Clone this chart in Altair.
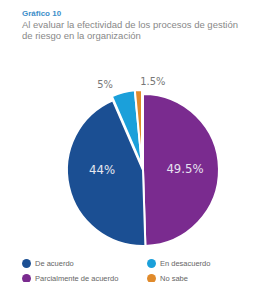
import altair as alt
import pandas as pd

categories = ["Parcialmente de acuerdo", "De acuerdo", "En desacuerdo", "No sabe"]
values = [49.5, 44, 5, 1.5]
labels = ["49.5%", "44%", "5%", "1.5%"]
slice_order = [1, 2, 3, 4]
legend_order = ["De acuerdo", "Parcialmente de acuerdo", "En desacuerdo", "No sabe"]
colors = ["#1b4f93", "#7a2b8f", "#1ba0da", "#e08a2b"]

df = pd.DataFrame({"cat": categories, "val": values, "lab": labels, "ord": slice_order})

CX, CY, R = 135, 128, 76

base = alt.Chart(df).transform_window(
    cum="sum(val)", sort=[alt.SortField("ord")], frame=[None, 0]
).transform_calculate(
    start="datum.cum - datum.val", mid="datum.cum - datum.val / 2"
)

theta_scale = alt.Scale(domain=[0, 100], range=[0, 6.283185307179586])
color = alt.Color(
    "cat:N",
    scale=alt.Scale(domain=legend_order, range=colors),
    legend=alt.Legend(
        title=None, orient="none", legendX=14, legendY=217, columns=2,
        symbolType="circle", symbolSize=80, labelFontSize=7.5, labelColor="#666",
        labelFont="Liberation Sans", columnPadding=28, rowPadding=6,
        symbolStrokeWidth=0, labelLimit=200,
    ),
)

big = base.transform_filter("datum.val > 10").mark_arc(
    outerRadius=R, stroke="white", strokeWidth=2
).encode(
    theta=alt.Theta("start:Q", scale=theta_scale),
    theta2="cum:Q",
    color=color,
    x=alt.value(CX), y=alt.value(CY),
)

small = base.transform_filter("datum.val < 10").mark_arc(
    outerRadius=R, stroke="white", strokeWidth=2
).encode(
    theta=alt.Theta("start:Q", scale=theta_scale),
    theta2="cum:Q",
    color=color,
    x=alt.value(CX - 1), y=alt.value(CY - 4),
)

inner_p = base.transform_filter("datum.cat == 'Parcialmente de acuerdo'").mark_text(
    radius=42, fontSize=13, color="#e6e2f0", font="DejaVu Sans Condensed"
).encode(
    theta=alt.Theta("mid:Q", scale=theta_scale),
    text="lab:N",
    x=alt.value(CX), y=alt.value(CY),
)

inner_d = base.transform_filter("datum.cat == 'De acuerdo'").mark_text(
    radius=42, fontSize=13, color="#e6e8f0", font="DejaVu Sans Condensed", dy=-9
).encode(
    theta=alt.Theta("mid:Q", scale=theta_scale),
    text="lab:N",
    x=alt.value(CX), y=alt.value(CY),
)

out5 = base.transform_filter("datum.cat == 'En desacuerdo'").mark_text(
    radius=88, fontSize=11, color="#777", font="DejaVu Sans Condensed", dx=-16
).encode(
    theta=alt.Theta("mid:Q", scale=theta_scale),
    text="lab:N",
    x=alt.value(CX), y=alt.value(CY),
)

out15 = base.transform_filter("datum.cat == 'No sabe'").mark_text(
    radius=88, fontSize=11, color="#777", font="DejaVu Sans Condensed", dx=14
).encode(
    theta=alt.Theta("mid:Q", scale=theta_scale),
    text="lab:N",
    x=alt.value(CX), y=alt.value(CY),
)

chart = alt.layer(big, small, inner_p, inner_d, out5, out15).properties(
    width=254, height=240,
    autosize=alt.AutoSizeParams(type="none"),
    padding={"left": 0, "top": 34, "right": 0, "bottom": 0},
    title=alt.TitleParams(
        text="Gráfico 10",
        subtitle=["Al evaluar la efectividad de los procesos de gestión",
                  "de riesgo en la organización"],
        anchor="start", dx=14, fontSize=8, font="Liberation Sans",
        fontWeight="bold", color="#3d8ec9",
        subtitleFontSize=9.5, subtitleFont="Liberation Sans",
        subtitleColor="#888", subtitlePadding=2, subtitleLineHeight=11,
        offset=2,
    ),
).configure_view(stroke=None)

chart.save("out.html", embed_options={"renderer": "svg", "actions": False})
